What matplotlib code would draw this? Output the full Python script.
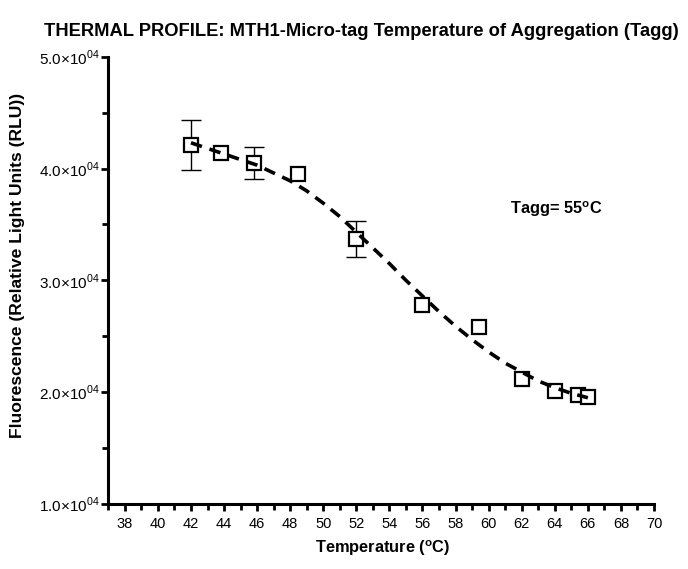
import matplotlib
matplotlib.use("Agg")
import matplotlib.pyplot as plt
from matplotlib.ticker import MultipleLocator, FuncFormatter

plt.rcParams["font.family"] = ["Liberation Sans", "DejaVu Sans"]
plt.rcParams["mathtext.fontset"] = "custom"
plt.rcParams["mathtext.rm"] = "Liberation Sans"
plt.rcParams["mathtext.bf"] = "Liberation Sans:bold"

# measured points (temperature in C, fluorescence in RLU)
temp = [42.0, 43.8, 45.8, 48.5, 52.0, 56.0, 59.4, 62.0, 64.0, 65.4, 66.0]
rlu = [42100, 41400, 40500, 39500, 33700, 27800, 25800, 21200, 20100, 19750, 19570]
rlu_err = [2200, 0, 1400, 0, 1600, 0, 0, 0, 0, 0, 0]

# fitted curve
fit_temp = [42, 43, 44, 45, 46, 47, 48, 49, 50, 51, 52, 53, 54, 55, 56, 57, 58,
            59, 60, 61, 62, 63, 64, 65, 66]
fit_rlu = [42300, 41800, 41300, 40800, 40300, 39600, 38900, 38000, 36900, 35700,
           34300, 32900, 31500, 30000, 28600, 27200, 25900, 24700, 23600, 22600,
           21800, 21000, 20400, 19900, 19500]

fig = plt.figure(figsize=(6.88, 5.69), dpi=100)
ax = fig.add_axes([108.3 / 688, 1 - 504 / 569, (654 - 108.3) / 688, (504 - 56.7) / 569])

# only points with an error bar get one
eb_t = [t for t, e in zip(temp, rlu_err) if e > 0]
eb_y = [y for y, e in zip(rlu, rlu_err) if e > 0]
eb_e = [e for e in rlu_err if e > 0]
ax.errorbar(eb_t, eb_y, yerr=eb_e, fmt="none", ecolor="black", elinewidth=1,
            capsize=7, capthick=1, zorder=2)
ax.plot(temp, rlu, ls="none", marker="s", ms=10, mfc="white", mec="black",
        mew=1.6, zorder=3)
ax.plot(fit_temp, fit_rlu, color="black", lw=2.6, ls=(0, (3.2, 2.2)), zorder=4)

ax.set_xlim(37, 70)
ax.set_ylim(10000, 50000)
ax.xaxis.set_major_locator(MultipleLocator(2))
ax.xaxis.set_minor_locator(MultipleLocator(1))
ax.yaxis.set_major_locator(MultipleLocator(10000))
ax.yaxis.set_minor_locator(MultipleLocator(5000))


def sci_fmt(v, pos):
    return "%.1f\u00d710$^{04}$" % (v / 10000)


ax.yaxis.set_major_formatter(FuncFormatter(sci_fmt))
ax.set_xticks(range(38, 71, 2))

for side in ["top", "right"]:
    ax.spines[side].set_visible(False)
for side in ["left", "bottom"]:
    ax.spines[side].set_linewidth(2.2)

ax.tick_params(which="major", direction="out", length=5, width=2, labelsize=10.5)
ax.tick_params(which="minor", direction="out", length=4, width=2)
ax.tick_params(axis="y", which="major", labelsize=11, pad=1)
ax.tick_params(axis="x", which="major", pad=4)

fig.text(361 / 688, 1 - 31 / 569, "THERMAL PROFILE: MTH1-Micro-tag Temperature of Aggregation (Tagg)",
         ha="center", va="center", fontsize=13.2, fontweight="bold")
fig.text(18 / 688, 1 - 265 / 569, "Fluorescence (Relative Light Units (RLU))",
         rotation=90, ha="center", va="center", fontsize=12.6, fontweight="bold")
fig.text(383 / 688, 1 - 548 / 569, r"Temperature ($\mathbf{^{o}}$C)",
         ha="center", va="center", fontsize=11.8, fontweight="bold")
fig.text(556 / 688, 1 - 209 / 569, r"Tagg= 55$\mathbf{^{o}}$C",
         ha="center", va="center", fontsize=11.8, fontweight="bold")

fig.savefig("out.png", dpi=100)
